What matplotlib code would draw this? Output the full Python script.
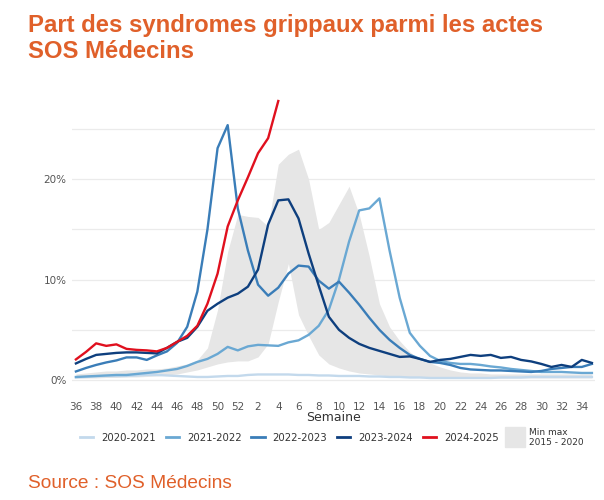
import numpy as np
import matplotlib
matplotlib.use("Agg")
import matplotlib.pyplot as plt
from matplotlib.lines import Line2D

# weeks shown on the x axis: 36..52 then 1..35
weeks = list(range(36, 53)) + list(range(1, 36))

s2020_2021 = [0.25, 0.3, 0.35, 0.4, 0.4, 0.4, 0.45, 0.5, 0.5, 0.45, 0.4, 0.35, 0.3,
              0.3, 0.35, 0.4, 0.4, 0.5, 0.55, 0.55, 0.55, 0.55, 0.5, 0.5, 0.45, 0.45,
              0.4, 0.4, 0.4, 0.35, 0.35, 0.3, 0.3, 0.25, 0.25, 0.2, 0.2, 0.2, 0.2,
              0.2, 0.2, 0.2, 0.25, 0.25, 0.25, 0.3, 0.3, 0.3, 0.3, 0.3, 0.3, 0.3]
s2021_2022 = [0.3, 0.35, 0.4, 0.45, 0.5, 0.5, 0.6, 0.7, 0.8, 0.95, 1.1, 1.4, 1.8,
              2.1, 2.6, 3.3, 2.95, 3.35, 3.5, 3.45, 3.4, 3.75, 3.95, 4.5, 5.4, 7.0,
              10.0, 13.8, 16.9, 17.1, 18.1, 12.9, 8.2, 4.7, 3.4, 2.4, 1.9, 1.7, 1.6,
              1.6, 1.5, 1.35, 1.25, 1.1, 1.0, 0.9, 0.8, 0.8, 0.8, 0.75, 0.7, 0.7]
s2022_2023 = [0.85, 1.2, 1.5, 1.75, 1.95, 2.25, 2.25, 2.0, 2.45, 2.85, 3.7, 5.3, 8.8,
              15.0, 23.1, 25.4, 17.1, 12.9, 9.5, 8.4, 9.2, 10.6, 11.4, 11.3, 9.9, 9.1,
              9.8, 8.7, 7.5, 6.2, 5.0, 4.0, 3.2, 2.5, 2.1, 1.8, 1.7, 1.5, 1.2, 1.05,
              1.0, 0.95, 0.95, 0.9, 0.85, 0.8, 0.9, 1.1, 1.2, 1.3, 1.3, 1.6]
s2023_2024 = [1.65, 2.1, 2.5, 2.6, 2.7, 2.75, 2.75, 2.7, 2.65, 3.2, 3.8, 4.2, 5.3,
              6.9, 7.6, 8.2, 8.6, 9.3, 11.0, 15.5, 17.9, 18.0, 16.1, 12.6, 9.4, 6.3,
              5.0, 4.2, 3.6, 3.2, 2.9, 2.6, 2.3, 2.35, 2.1, 1.8, 2.0, 2.1, 2.3, 2.5,
              2.4, 2.5, 2.2, 2.3, 2.0, 1.85, 1.6, 1.3, 1.5, 1.3, 2.0, 1.7]
s2024_2025 = [2.05, 2.8, 3.65, 3.4, 3.55, 3.1, 3.0, 2.95, 2.85, 3.2, 3.8, 4.4, 5.4,
              7.6, 10.6, 15.3, 17.9, 20.2, 22.6, 24.1, 27.8]

minmax_low = [0.2, 0.2, 0.2, 0.25, 0.25, 0.3, 0.3, 0.35, 0.4, 0.5, 0.6, 0.8, 1.0,
              1.3, 1.6, 1.8, 1.9, 1.9, 2.3, 3.6, 7.8, 11.6, 6.5, 4.4, 2.5, 1.6,
              1.2, 0.9, 0.7, 0.6, 0.5, 0.4, 0.3, 0.3, 0.3, 0.3, 0.3, 0.3, 0.25,
              0.25, 0.25, 0.2, 0.2, 0.2, 0.2, 0.2, 0.2, 0.2, 0.2, 0.2, 0.2, 0.2]
minmax_high = [0.6, 0.7, 0.8, 0.9, 0.9, 1.0, 1.0, 1.1, 1.1, 1.2, 1.4, 1.6, 2.0,
               3.2, 7.0, 12.8, 16.5, 16.3, 16.2, 15.3, 21.5, 22.5, 23.0, 20.0, 15.0,
               15.7, 17.5, 19.3, 16.5, 12.3, 7.6, 5.3, 3.9, 2.8, 2.0, 1.7, 1.3, 1.0,
               0.8, 0.7, 0.7, 0.6, 0.6, 0.6, 0.6, 0.6, 0.6, 0.6, 0.6, 0.6, 0.6, 0.6]

seasons = ["2020-2021", "2021-2022", "2022-2023", "2023-2024", "2024-2025"]
series = [s2020_2021, s2021_2022, s2022_2023, s2023_2024, s2024_2025]
colors = ["#c3d9ec", "#6aa8d3", "#3a7db8", "#0e3f7e", "#e0101e"]

orange = "#e0602a"
fill_col = "#e6e6e6"

fig = plt.figure(figsize=(6.04, 5.0), dpi=100)
ax = fig.add_axes([0.119, 0.234, 0.866, 0.576])

x = np.arange(len(weeks))
ax.fill_between(x, minmax_low, minmax_high, color=fill_col, lw=0, zorder=1)
for vals, col in zip(series, colors):
    ax.plot(x[:len(vals)], vals, color=col, lw=1.7, zorder=3)

ax.set_xlim(-0.4, 51.3)
ax.set_ylim(-0.3, 28.4)
ax.set_yticks([0, 5, 10, 15, 20, 25])
ax.set_yticklabels(["0%", "", "10%", "", "20%", ""])
ax.set_xticks(x[::2])
ax.set_xticklabels([str(w) for w in weeks[::2]])
ax.grid(axis="y", color="#ebebeb", lw=0.9, zorder=0)
ax.set_axisbelow(True)
for sp in ax.spines.values():
    sp.set_visible(False)
ax.tick_params(axis="both", length=0, labelcolor="#555555")
ax.tick_params(axis="y", labelsize=7.5, pad=4)
ax.tick_params(axis="x", labelsize=7.5, pad=14)
ax.set_xlabel("Semaine", fontsize=9, color="#333333", labelpad=-1)

handles = [Line2D([], [], color=c, lw=2) for c in colors]
handles.append(Line2D([], [], marker="s", markersize=15, color=fill_col, ls="none"))
labels = seasons + ["Min max\n2015 - 2020"]
leg = fig.legend(handles, labels, loc="center", bbox_to_anchor=(0.55, 0.125),
                 ncol=6, frameon=False, fontsize=7.3, handlelength=1.3,
                 handletextpad=0.8, columnspacing=0.95)
for t in leg.get_texts():
    t.set_color("#333333")
leg.get_texts()[-1].set_fontsize(6.5)

fig.text(0.046, 0.972, "Part des syndromes grippaux parmi les actes\nSOS Médecins",
         fontsize=17.2, fontweight="bold", color=orange, family="Liberation Sans",
         va="top", ha="left", linespacing=1.15)
fig.text(0.046, 0.034, "Source : SOS Médecins", fontsize=13.8, color=orange,
         family="Liberation Sans", va="center", ha="left")

fig.savefig("out.png", dpi=100)
